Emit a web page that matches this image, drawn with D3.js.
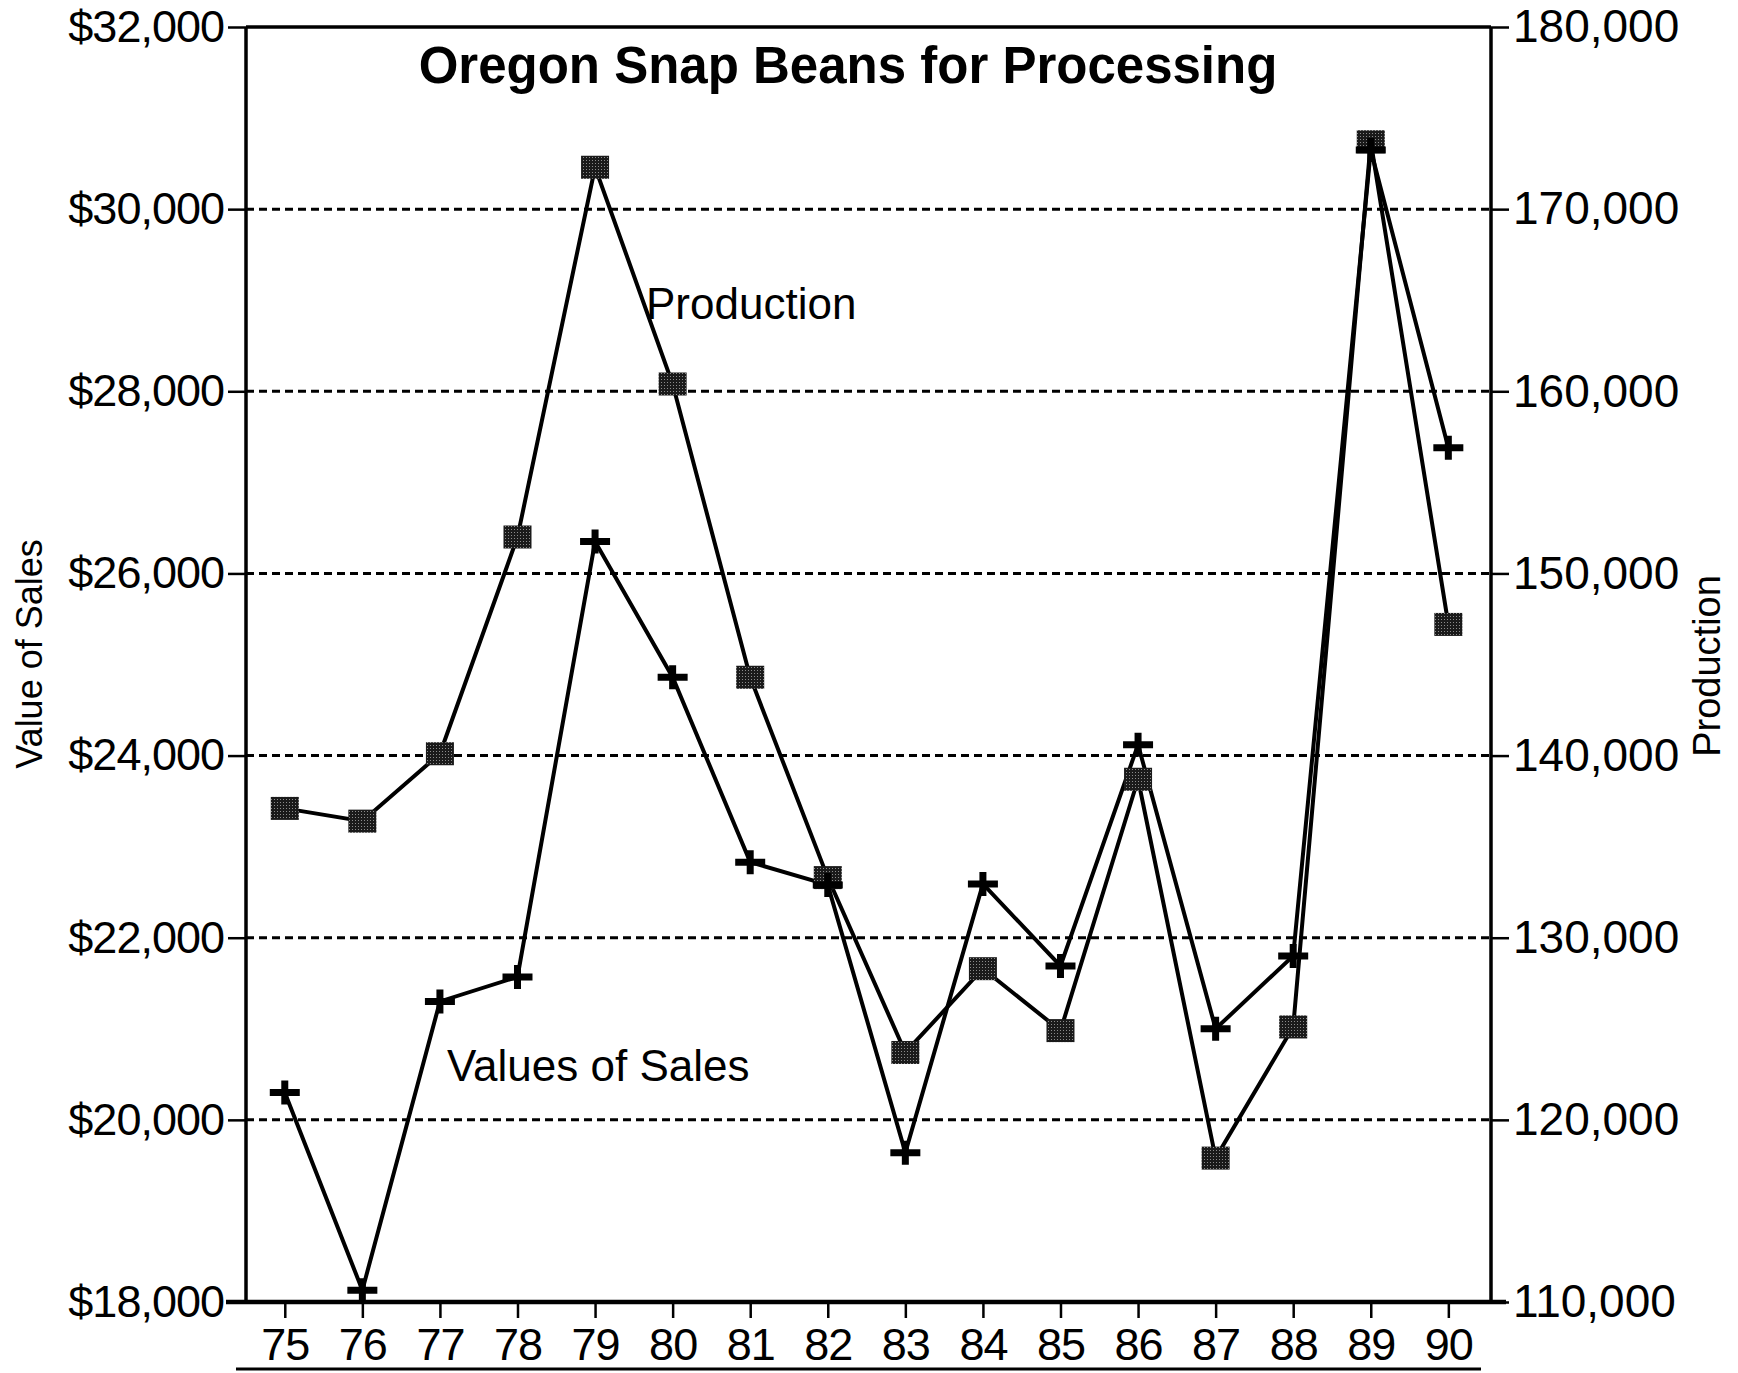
<!DOCTYPE html>
<html>
<head>
<meta charset="utf-8">
<script src="https://cdn.jsdelivr.net/npm/d3@7"></script>
<style>
  body { margin: 0; background: #fff; }
  svg { display: block; font-family: "Liberation Sans", Arial, sans-serif; }
</style>
</head>
<body>
<svg class="chart"></svg>
<script>
// years on the x axis (19xx)
let years = [75, 76, 77, 78, 79, 80, 81, 82, 83, 84, 85, 86, 87, 88, 89, 90];
// value of sales, $ (left axis, plus markers)
let salesValues = [20300, 18130, 21300, 21570, 26350, 24860, 22830, 22580, 19640, 22590, 21690, 24120, 21000, 21800, 30650, 27380];
// production (right axis, square markers)
let productionValues = [137100, 136400, 140100, 152000, 172300, 160400, 144300, 133300, 123700, 128300, 124900, 138700, 117900, 125100, 173700, 147200];
let leftTicks = [18000, 20000, 22000, 24000, 26000, 28000, 30000, 32000];
let rightTicks = [110000, 120000, 130000, 140000, 150000, 160000, 170000, 180000];

let width = 1738, height = 1373;
let margin = {top: 27, right: 247, bottom: 71, left: 246};
let widthChart = width - margin.left - margin.right;
let heightChart = height - margin.top - margin.bottom;

let svg = d3.select(".chart")
    .attr("width", width)
    .attr("height", height);

// stippled dark fill for the square markers
let pat = svg.append("defs").append("pattern")
    .attr("id", "stip")
    .attr("width", 3).attr("height", 3)
    .attr("patternUnits", "userSpaceOnUse");
pat.append("rect").attr("width", 3).attr("height", 3).attr("fill", "#1a1a1a");
pat.append("rect").attr("x", 1).attr("y", 1).attr("width", 1).attr("height", 1).attr("fill", "#8a8a8a");

let chart = svg.append("g")
    .attr("transform", "translate(" + margin.left + "," + margin.top + ")");

let x = d3.scaleLinear().domain([74.5, 90.55]).range([0, widthChart]);
let yL = d3.scaleLinear().domain([18000, 32000]).range([heightChart, 0]);
let yR = d3.scaleLinear().domain([110000, 180000]).range([heightChart, 0]);

// dashed grid lines
chart.append("g").selectAll("line")
    .data(leftTicks.slice(1, -1))
    .enter().append("line")
    .attr("x1", 0).attr("x2", widthChart)
    .attr("y1", d => yL(d)).attr("y2", d => yL(d))
    .attr("stroke", "#000")
    .attr("stroke-width", 3)
    .attr("stroke-dasharray", "8,5");

let fmtDollar = d => "$" + d3.format(",")(d);

let leftAxis = d3.axisLeft(yL).tickValues(leftTicks).tickFormat(fmtDollar).tickSize(18).tickPadding(4);
let rightAxis = d3.axisRight(yR).tickValues(rightTicks).tickFormat(d3.format(",")).tickSize(18).tickPadding(4);
let bottomAxis = d3.axisBottom(x).tickValues(years).tickFormat(d => d).tickSize(16).tickPadding(10);

function styleAxis(g, w, size, spacing) {
  g.selectAll(".domain").attr("stroke", "#000").attr("stroke-width", w);
  g.selectAll(".tick line").attr("stroke", "#000").attr("stroke-width", 2.5);
  g.selectAll(".tick text")
    .attr("fill", "#000")
    .style("font-size", size + "px")
    .style("letter-spacing", spacing + "px")
    .style("font-family", "'Liberation Sans', Arial, sans-serif");
}

let gl = chart.append("g").call(leftAxis);
gl.selectAll(".domain").attr("d", "M0," + heightChart + "V0");
styleAxis(gl, 3.5, 45, -1);

let gr = chart.append("g").attr("transform", "translate(" + widthChart + ",0)").call(rightAxis);
gr.selectAll(".domain").attr("d", "M0," + heightChart + "V0");
styleAxis(gr, 3.5, 46, 0);

let gb = chart.append("g").attr("transform", "translate(0," + heightChart + ")").call(bottomAxis);
gb.selectAll(".domain").attr("d", "M-20,0H" + (widthChart + 15));
styleAxis(gb, 4.5, 45, -1);
gb.selectAll(".tick text").attr("dy", "0.72em");

// top border
chart.append("line")
    .attr("x1", 0).attr("x2", widthChart)
    .attr("y1", 0).attr("y2", 0)
    .attr("stroke", "#000").attr("stroke-width", 3.5);

// rule under the year labels
chart.append("line")
    .attr("x1", -10).attr("x2", widthChart - 10)
    .attr("y1", heightChart + 67).attr("y2", heightChart + 67)
    .attr("stroke", "#000").attr("stroke-width", 3);

// series lines
let salesLine = d3.line().x((d, i) => x(years[i])).y(d => yL(d));
let prodLine = d3.line().x((d, i) => x(years[i])).y(d => yR(d));

chart.append("path").datum(productionValues)
    .attr("d", prodLine)
    .attr("fill", "none").attr("stroke", "#000").attr("stroke-width", 4);

chart.append("path").datum(salesValues)
    .attr("d", salesLine)
    .attr("fill", "none").attr("stroke", "#000").attr("stroke-width", 4);

// square markers
chart.append("g").selectAll("rect")
    .data(productionValues)
    .enter().append("rect")
    .attr("x", (d, i) => x(years[i]) - 14)
    .attr("y", d => yR(d) - 11.5)
    .attr("width", 28).attr("height", 23)
    .attr("fill", "url(#stip)");

// plus markers
let plus = "M-15,-3.5H-3.5V-12H3.5V-3.5H15V3.5H3.5V12H-3.5V3.5H-15Z";
chart.append("g").selectAll("path")
    .data(salesValues)
    .enter().append("path")
    .attr("d", plus)
    .attr("transform", (d, i) => "translate(" + x(years[i]) + "," + yL(d) + ")")
    .attr("fill", "#000");

// title and annotations
chart.append("text")
    .text("Oregon Snap Beans for Processing")
    .attr("x", 602).attr("y", 56)
    .attr("text-anchor", "middle")
    .style("font-size", "51px").style("font-weight", "bold")
    .attr("fill", "#000");

chart.append("text")
    .text("Production")
    .attr("x", 400).attr("y", 292)
    .style("font-size", "44px")
    .attr("fill", "#000");

chart.append("text")
    .text("Values of Sales")
    .attr("x", 201).attr("y", 1054)
    .style("font-size", "44px")
    .attr("fill", "#000");

// axis titles
svg.append("text")
    .text("Value of Sales")
    .attr("transform", "translate(42,654) rotate(-90)")
    .attr("text-anchor", "middle")
    .style("font-size", "36px")
    .attr("fill", "#000");

svg.append("text")
    .text("Production")
    .attr("transform", "translate(1720,666) rotate(-90)")
    .attr("text-anchor", "middle")
    .style("font-size", "38px")
    .attr("fill", "#000");
</script>
</body>
</html>
